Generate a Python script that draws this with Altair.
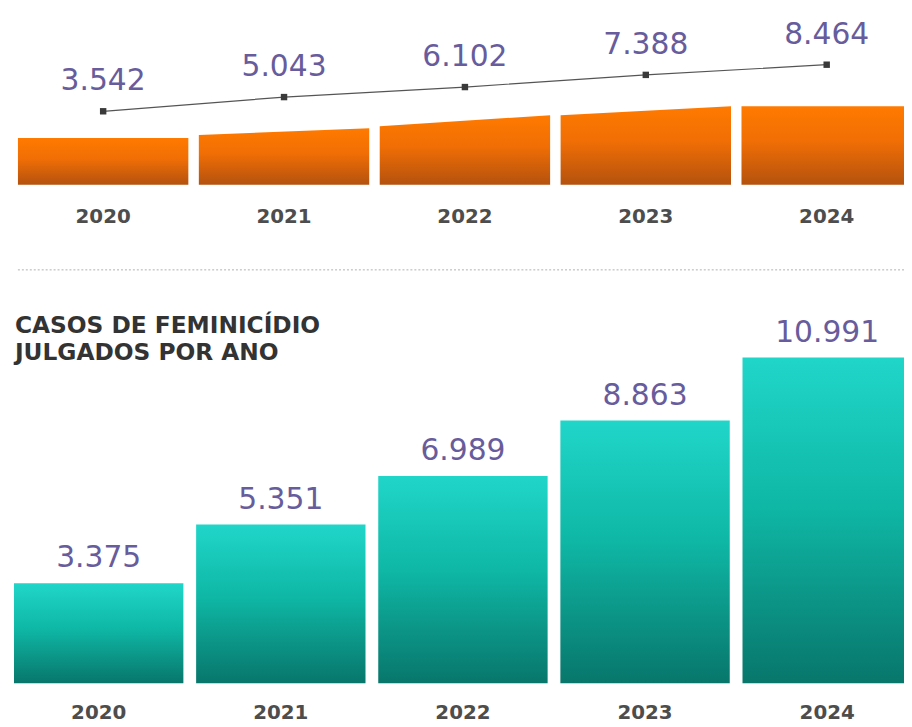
import altair as alt
import pandas as pd

# ---- data ----
years = [2020, 2021, 2022, 2023, 2024]
casos_topo = [3542, 5043, 6102, 7388, 8464]          # upper series (line)
julgados = [3375, 5351, 6989, 8863, 10991]           # cases judged per year (bars)
faixa_esq = [47, 50, 59, 70, 79]                     # decorative orange band, left edge height
faixa_dir = [47, 57, 70, 79, 79]                     # decorative orange band, right edge height
titulo = "CASOS DE FEMINICÍDIO\nJULGADOS POR ANO"

# ---- styles ----
FONT = "DejaVu Sans"
PURPLE = "#675c9c"
YEARCOL = "#4d4d4d"
TOP_HALF = 0.471
BOT_HALF = 0.465

orange = alt.Gradient(
    gradient="linear", x1=0, y1=0, x2=0, y2=1,
    stops=[alt.GradientStop(color="#ff7a00", offset=0),
           alt.GradientStop(color="#f06e05", offset=0.45),
           alt.GradientStop(color="#b4520e", offset=1)],
)
teal = alt.Gradient(
    gradient="linear", x1=0, y1=0, x2=0, y2=1,
    stops=[alt.GradientStop(color="#20d6c9", offset=0),
           alt.GradientStop(color="#0fb8a6", offset=0.45),
           alt.GradientStop(color="#08766b", offset=1)],
)

top_df = pd.DataFrame({"year": years, "value": casos_topo})
bot_df = pd.DataFrame({"year": years, "value": julgados})
rib_rows = []
for y, l, r in zip(years, faixa_esq, faixa_dir):
    rib_rows.append({"year": y, "pos": y - TOP_HALF, "h": l})
    rib_rows.append({"year": y, "pos": y + TOP_HALF, "h": r})
rib_df = pd.DataFrame(rib_rows)
one = pd.DataFrame({"a": [0]})

H = 719
xt = alt.Scale(domain=[2019.47397, 2024.42740], nice=False, zero=False)
xb = alt.Scale(domain=[2019.50204, 2024.42177], nice=False, zero=False)
# line: 3542 at y=101, 0.00955 px per unit
y_line = alt.Scale(domain=[3542 - (H - 101) / 0.00955, 3542 + 101 / 0.00955], nice=False, zero=False)
# decorative band: baseline at y=175, 1 unit per px
y_rib = alt.Scale(domain=[175 - H, 175], nice=False, zero=False)
# bars: zero at y=678, 0.0299 px per unit
y_bar = alt.Scale(domain=[-(H - 678) / 0.0299, 678 / 0.0299], nice=False, zero=False)

label_expr = "replace(format(datum.value, ','), ',', '.')"

ribbon = alt.Chart(rib_df).mark_area(color=orange, interpolate="linear").encode(
    x=alt.X("pos:Q", scale=xt, axis=None),
    y=alt.Y("h:Q", scale=y_rib, axis=None),
    y2=alt.datum(0),
    detail="year:N",
)

line = alt.Chart(top_df).mark_line(color="#555555", strokeWidth=1.2).encode(
    x=alt.X("year:Q", scale=xt, axis=None),
    y=alt.Y("value:Q", scale=y_line, axis=None),
)

points = alt.Chart(top_df).mark_point(shape="square", filled=True, size=42,
                                      color="#3a3a3a", opacity=1).encode(
    x=alt.X("year:Q", scale=xt, axis=None),
    y=alt.Y("value:Q", scale=y_line, axis=None),
)

top_labels = alt.Chart(top_df).transform_calculate(label=label_expr).mark_text(
    font=FONT, fontSize=30, color=PURPLE, baseline="alphabetic", dy=-21
).encode(
    x=alt.X("year:Q", scale=xt, axis=None),
    y=alt.Y("value:Q", scale=y_line, axis=None),
    text="label:N",
)

top_years = alt.Chart(top_df).mark_text(
    font=FONT, fontSize=20, fontWeight="bold", color=YEARCOL, baseline="alphabetic"
).encode(
    x=alt.X("year:Q", scale=xt, axis=None),
    y=alt.value(214),
    text=alt.Text("year:Q", format="d"),
)

separator = alt.Chart(one).mark_rule(color="#b0b0b0", strokeDash=[2, 2], strokeWidth=1).encode(
    x=alt.value(10), x2=alt.value(910), y=alt.value(261)
)

title = alt.Chart(one).mark_text(
    font=FONT, fontSize=23.5, fontWeight="bold", color="#333333", align="left",
    baseline="alphabetic", lineBreak="\n", lineHeight=27
).encode(x=alt.value(7), y=alt.value(325), text=alt.value(titulo))

bars = alt.Chart(bot_df).transform_calculate(
    x0=f"datum.year - {BOT_HALF}", x1=f"datum.year + {BOT_HALF}"
).mark_bar(color=teal).encode(
    x=alt.X("x0:Q", scale=xb, axis=None),
    x2="x1:Q",
    y=alt.Y("value:Q", scale=y_bar, axis=None),
    y2=alt.datum(0),
)

bar_labels = alt.Chart(bot_df).transform_calculate(label=label_expr).mark_text(
    font=FONT, fontSize=30, color=PURPLE, baseline="alphabetic", dy=-16
).encode(
    x=alt.X("year:Q", scale=xb, axis=None),
    y=alt.Y("value:Q", scale=y_bar, axis=None),
    text="label:N",
)

bot_years = alt.Chart(bot_df).mark_text(
    font=FONT, fontSize=20, fontWeight="bold", color=YEARCOL, baseline="alphabetic"
).encode(
    x=alt.X("year:Q", scale=xb, axis=None),
    y=alt.value(714),
    text=alt.Text("year:Q", format="d"),
)

chart = alt.layer(
    ribbon, line, points, top_labels, top_years, separator, title,
    bars, bar_labels, bot_years
).resolve_scale(x="independent", y="independent").properties(
    width=904, height=H, padding=0, background="white",
    autosize=alt.AutoSizeParams(type="none"),
).configure_view(strokeWidth=0)

chart.save("out.html", embed_options={"renderer": "svg", "actions": False})
